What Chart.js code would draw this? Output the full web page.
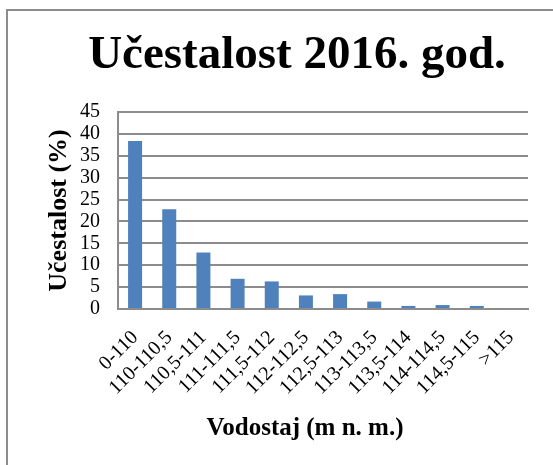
<!DOCTYPE html>
<html>
<head>
<meta charset="utf-8">
<script src="https://cdn.jsdelivr.net/npm/chart.js@4"></script>
<style>
  body { margin: 0; background: #fff; overflow: hidden; }
  #wrap { position: relative; width: 553px; height: 465px; }
  #frame { position: absolute; left: 6px; top: 9px; width: 600px; height: 500px;
           border-left: 2px solid #8c8c8c; border-top: 2px solid #8c8c8c; pointer-events: none; }
</style>
</head>
<body>
<div id="wrap">
  <canvas id="myChart" width="553" height="465"></canvas>
  <div id="frame"></div>
</div>
<script>
const categories = ["0-110", "110-110,5", "110,5-111", "111-111,5", "111,5-112", "112-112,5",
  "112,5-113", "113-113,5", "113,5-114", "114-114,5", "114,5-115", ">115"];
const values = [38.4, 22.8, 12.9, 6.9, 6.3, 3.1, 3.4, 1.7, 0.7, 0.9, 0.7, 0.2];
const chartTitle = "Učestalost 2016. god.";
const xTitle = "Vodostaj (m n. m.)";
const yTitle = "Učestalost (%)";

const serif = "'Liberation Serif', 'Times New Roman', serif";
const gridColor = "#8c8c8c";

// titles are drawn here so they can sit where the original had them
const titlesPlugin = {
  id: "titles",
  afterDraw(chart) {
    const ctx = chart.ctx;
    ctx.save();
    ctx.fillStyle = "#000";
    ctx.textAlign = "center";
    ctx.textBaseline = "alphabetic";
    ctx.font = "bold 47px " + serif;
    ctx.fillText(chartTitle, 297, 68);
    ctx.font = "bold 25px " + serif;
    ctx.fillText(xTitle, 305, 435);
    ctx.restore();
  }
};

// don't let rotated labels push the plot area around
function noPadding(scale) {
  scale.paddingLeft = 0;
  scale.paddingRight = 0;
  scale.paddingTop = 0;
  scale.paddingBottom = 0;
}

window.addEventListener("load", function () {
  const data = {
    labels: categories,
    datasets: [{
      data: values,
      backgroundColor: "#4f81bd",
      borderWidth: 0,
      barPercentage: 0.41,
      categoryPercentage: 1
    }]
  };

  const config = {
    type: "bar",
    data,
    plugins: [titlesPlugin],
    options: {
      responsive: false,
      animation: false,
      layout: { padding: { left: 45, right: 25, top: 112, bottom: 70 } },
      plugins: {
        legend: { display: false },
        tooltip: { enabled: false }
      },
      scales: {
        x: {
          afterFit: (scale) => { noPadding(scale); scale.height = 86; },
          grid: { display: false, drawTicks: false },
          border: { display: true, color: gridColor, width: 2 },
          ticks: {
            color: "#000",
            font: { family: serif, size: 20 },
            maxRotation: 45,
            minRotation: 45,
            padding: 17,
            autoSkip: false
          }
        },
        y: {
          min: 0,
          max: 45,
          afterFit: (scale) => { noPadding(scale); scale.width = 73; },
          grid: { color: gridColor, lineWidth: 2, drawTicks: false },
          border: { display: true, color: gridColor, width: 2 },
          ticks: {
            stepSize: 5,
            autoSkip: false,
            color: "#000",
            font: { family: serif, size: 20 },
            padding: 18
          },
          title: {
            display: true,
            text: yTitle,
            color: "#000",
            font: { family: serif, size: 26, weight: "bold", lineHeight: 1.1 },
            padding: { top: 0, bottom: 6 }
          }
        }
      }
    }
  };

  const myChart = new Chart(document.getElementById("myChart"), config);
});
</script>
</body>
</html>
